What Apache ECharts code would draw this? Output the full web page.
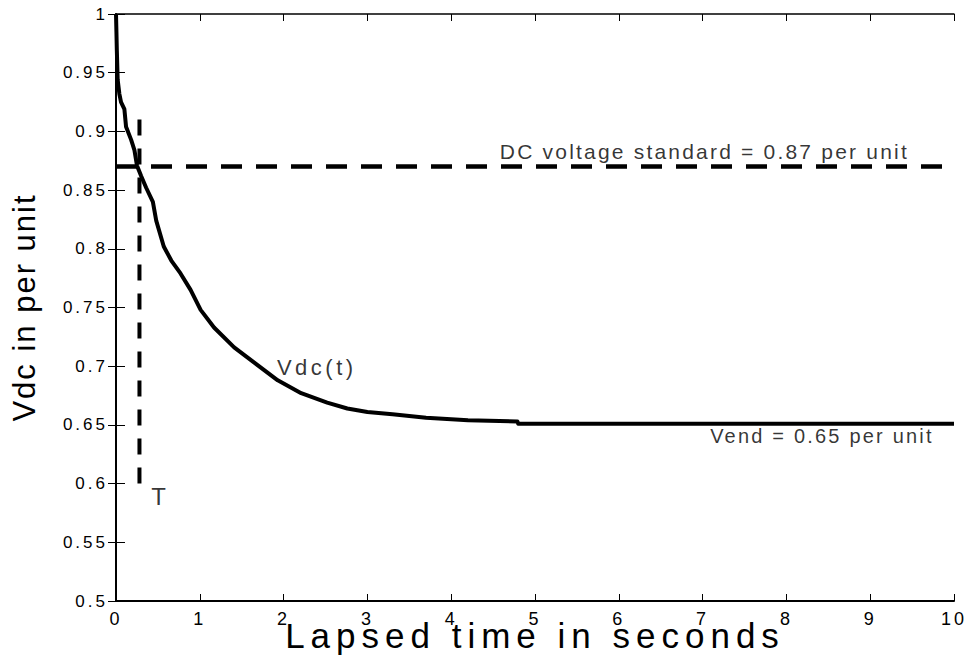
<!DOCTYPE html>
<html>
<head>
<meta charset="utf-8">
<script src="https://cdn.jsdelivr.net/npm/echarts@6/dist/echarts.min.js"></script>
<style>
  html, body { margin: 0; padding: 0; background: #fff; }
  #chart { width: 968px; height: 659px; }
</style>
</head>
<body>
<div id="chart"></div>
<script>
// Vdc(t) curve
const timeS = [0, 0.005, 0.01, 0.02, 0.04, 0.06, 0.1, 0.12, 0.18, 0.22, 0.25, 0.3, 0.36, 0.44, 0.48, 0.57,
  0.66, 0.77, 0.89, 1.01, 1.17, 1.41, 1.65, 1.93, 2.21, 2.52, 2.76, 3.0, 3.3, 3.7, 4.2, 4.79, 4.8, 6, 8, 10]
const vdcPu = [1.0, 0.985, 0.969, 0.944, 0.932, 0.925, 0.919, 0.904, 0.893, 0.884, 0.871, 0.862, 0.852, 0.84, 0.824, 0.802,
  0.79, 0.779, 0.765, 0.748, 0.733, 0.716, 0.703, 0.688, 0.677, 0.669, 0.664, 0.661, 0.659, 0.656, 0.654, 0.653, 0.651, 0.651, 0.651, 0.651]

// DC voltage standard line and the T marker
const stdT = [0, 10]
const stdV = [0.87, 0.87]
const markT = [0.28, 0.28]
const markV = [0.6, 0.912]

// tick values
const xTicks = [0, 1, 2, 3, 4, 5, 6, 7, 8, 9, 10]
const yTicks = [0.5, 0.55, 0.6, 0.65, 0.7, 0.75, 0.8, 0.85, 0.9, 0.95, 1]

// text annotations (data coords of the text's left/middle)
const noteText = ['DC voltage standard = 0.87 per unit', 'Vdc(t)', 'Vend = 0.65 per unit', 'T']
const noteT = [4.58, 1.92, 7.09, 0.42]
const noteV = [0.8833, 0.699, 0.6405, 0.5894]
const noteSize = [21, 22, 20, 24]

const FONT = 'Liberation Sans, Arial, sans-serif'
// extra letter spacing to mimic the wide original lettering
const spacing = {
  'Lapsed time in seconds': 6,
  'Vdc in per unit': 2,
  'DC voltage standard = 0.87 per unit': 2.2,
  'Vdc(t)': 3.5,
  'Vend = 0.65 per unit': 2.2,
  'T': 0
}

const chart = echarts.init(document.getElementById('chart'), null, { renderer: 'svg' })

const axisLine = w => ({ show: true, lineStyle: { color: '#000', width: w } })

chart.setOption({
  animation: false,
  backgroundColor: '#fff',
  grid: { left: 116, top: 14, right: 14, bottom: 58, containLabel: false, outerBoundsMode: 'none' },
  xAxis: [{
    type: 'value',
    min: xTicks[0], max: xTicks[xTicks.length - 1], interval: xTicks[1] - xTicks[0],
    name: 'Lapsed time in seconds',
    nameLocation: 'middle', nameGap: 17, nameMoveOverlap: false,
    nameTextStyle: { fontFamily: FONT, fontSize: 35, color: '#000' },
    axisLine: axisLine(2),
    axisTick: { inside: true, length: 7, lineStyle: { color: '#000', width: 1 } },
    axisLabel: { fontFamily: FONT, fontSize: 18, color: '#000', margin: 9 },
    splitLine: { show: false }
  }, {
    type: 'value', position: 'top',
    min: xTicks[0], max: xTicks[xTicks.length - 1], interval: xTicks[1] - xTicks[0],
    axisLine: axisLine(1.5),
    axisTick: { inside: true, length: 7, lineStyle: { color: '#000', width: 1 } },
    axisLabel: { show: false },
    splitLine: { show: false }
  }],
  yAxis: [{
    type: 'value',
    min: yTicks[0], max: yTicks[yTicks.length - 1], interval: 0.05,
    name: 'Vdc in per unit',
    nameLocation: 'middle', nameGap: 76, nameRotate: 90, nameMoveOverlap: false,
    nameTextStyle: { fontFamily: FONT, fontSize: 31, color: '#000' },
    axisLine: axisLine(2),
    axisTick: { inside: true, length: 9, lineStyle: { color: '#000', width: 1 } },
    axisLabel: {
      fontFamily: FONT, fontSize: 17, color: '#000', margin: 8,
      formatter: v => String(+v.toFixed(2))
    },
    splitLine: { show: false }
  }, {
    type: 'value', position: 'right',
    min: yTicks[0], max: yTicks[yTicks.length - 1], interval: 0.05,
    axisLine: axisLine(1.5),
    axisTick: { inside: true, length: 8, lineStyle: { color: '#000', width: 1 } },
    axisLabel: { show: false },
    splitLine: { show: false }
  }],
  series: [
    {
      type: 'line', name: 'std',
      data: stdT.map((t, i) => [t, stdV[i]]),
      symbol: 'none', silent: true,
      lineStyle: { color: '#000', width: 4.5, type: [21, 14] }
    },
    {
      type: 'line', name: 'mark',
      data: markT.map((t, i) => [t, markV[i]]),
      symbol: 'none', silent: true,
      lineStyle: { color: '#000', width: 4, type: [16, 13] }
    },
    {
      type: 'line', name: 'Vdc',
      data: timeS.map((t, i) => [t, vdcPu[i]]),
      symbol: 'none', silent: true,
      lineStyle: { color: '#000', width: 4, join: 'round' }
    },
    ...noteText.map((txt, i) => ({
      type: 'scatter',
      data: [[noteT[i], noteV[i]]],
      symbolSize: 0, silent: true, clip: false,
      label: {
        show: true, position: 'right', distance: 0,
        formatter: txt, align: 'left', verticalAlign: 'middle',
        fontFamily: FONT, fontSize: noteSize[i], color: '#000'
      }
    }))
  ]
})

function applySpacing() {
  document.querySelectorAll('#chart svg text').forEach(el => {
    const txt = el.textContent.trim()
    let ls = spacing[txt]
    if (ls === undefined) ls = /^[\d.]+$/.test(txt) ? 3 : 0
    el.setAttribute('letter-spacing', ls + 'px')
  })
}
applySpacing()
chart.on('finished', applySpacing)
setTimeout(applySpacing, 0)
</script>
</body>
</html>
